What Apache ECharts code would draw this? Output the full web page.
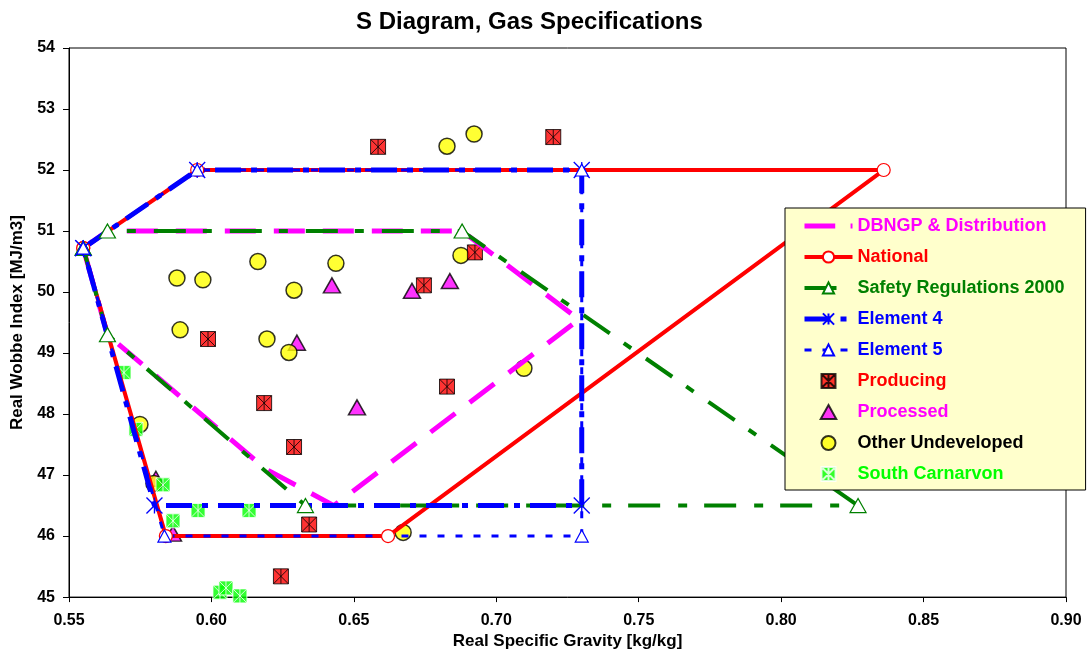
<!DOCTYPE html>
<html>
<head>
<meta charset="utf-8">
<script src="https://cdn.jsdelivr.net/npm/echarts@6/dist/echarts.min.js"></script>
<style>
  html, body { margin: 0; padding: 0; background: #ffffff; }
  #chart { width: 1089px; height: 655px; }
</style>
</head>
<body>
<div id="chart"></div>
<script>
// Specification envelopes: [specific gravity, Wobbe index]
const dbngpEnvelope = [[0.555, 50.72], [0.5635, 51.0], [0.688, 51.0], [0.729, 49.55], [0.643, 46.5], [0.619, 47.1], [0.5635, 49.3], [0.555, 50.72]];
const nationalEnvelope = [[0.555, 50.72], [0.595, 52.0], [0.836, 52.0], [0.662, 46.0], [0.584, 46.0], [0.555, 50.72]];
const safetyEnvelope = [[0.555, 50.72], [0.5635, 51.0], [0.688, 51.0], [0.827, 46.5], [0.633, 46.5], [0.5635, 49.3], [0.555, 50.72]];
const element4Envelope = [[0.555, 50.72], [0.595, 52.0], [0.730, 52.0], [0.730, 46.5], [0.580, 46.5], [0.555, 50.72]];
const element5Envelope = [[0.555, 50.72], [0.595, 52.0], [0.730, 52.0], [0.730, 46.0], [0.5835, 46.0], [0.555, 50.72]];

// Gas compositions
const producing = [[0.6585, 52.38], [0.720, 52.54], [0.6925, 50.65], [0.6746, 50.11], [0.5988, 49.23], [0.6827, 48.45], [0.6185, 48.18], [0.629, 47.46], [0.6343, 46.19], [0.6244, 45.34]];
const processed = [[0.6423, 50.11], [0.6704, 50.02], [0.6837, 50.18], [0.630, 49.17], [0.6511, 48.11], [0.5865, 46.04], [0.5805, 46.94]];
const otherUndeveloped = [[0.6922, 52.59], [0.6827, 52.39], [0.6163, 50.50], [0.6437, 50.47], [0.5879, 50.23], [0.597, 50.20], [0.629, 50.03], [0.6876, 50.60], [0.589, 49.38], [0.6195, 49.23], [0.6272, 49.01], [0.7097, 48.75], [0.6673, 46.06], [0.5749, 47.83], [0.5798, 46.86]];
const southCarnarvon = [[0.5693, 48.68], [0.5735, 47.75], [0.583, 46.84], [0.5865, 46.25], [0.5953, 46.42], [0.6132, 46.42], [0.603, 45.08], [0.6051, 45.15], [0.610, 45.02]];

const xRange = { min: 0.55, max: 0.90, step: 0.05 };
const yRange = { min: 45, max: 54, step: 1 };

const FONT = 'Liberation Sans, Arial, Helvetica, sans-serif';
const ASTERISK = 'path://M10,0L10,20M0,0L20,20M0,20L20,0';
const BOXED_ASTERISK = 'path://M0,0L20,0L20,20L0,20ZM10,0L10,20M0,0L20,20M0,20L20,0';
const TRIANGLE_ICON = 'path://M10,0L20,18L0,18Z';
const BAR_ICON = 'path://M0,0L32,0L32,5L0,5ZM48,0L50,0L50,5L48,5Z';

const chart = echarts.init(document.getElementById('chart'), null, { renderer: 'canvas' });

const legendItems = [
  { name: 'DBNGP & Distribution', textStyle: { color: '#ff00ff' }, icon: BAR_ICON },
  { name: 'National', textStyle: { color: '#ff0000' }, lineStyle: { width: 4 } },
  { name: 'Safety Regulations 2000', textStyle: { color: '#008000' }, lineStyle: { width: 4 } },
  { name: 'Element 4', textStyle: { color: '#0000ff' }, lineStyle: { width: 5 } },
  { name: 'Element 5', textStyle: { color: '#0000ff' }, lineStyle: { width: 3 } },
  { name: 'Producing', textStyle: { color: '#ff0000' } },
  { name: 'Processed', textStyle: { color: '#ff00ff' }, icon: TRIANGLE_ICON },
  { name: 'Other Undeveloped', textStyle: { color: '#000000' } },
  { name: 'South Carnarvon', textStyle: { color: '#00ff00' } }
];

function envelope(name, data, line, symbol) {
  return Object.assign({
    name: name,
    type: 'line',
    data: data,
    showAllSymbol: true,
    smooth: false,
    lineStyle: line,
    emphasis: { disabled: true },
    animation: false
  }, symbol);
}

function markers(name, data, symbol, size, style) {
  return {
    name: name,
    type: 'scatter',
    data: data,
    symbol: symbol,
    symbolSize: size,
    itemStyle: style,
    emphasis: { disabled: true },
    animation: false
  };
}

chart.setOption({
  backgroundColor: '#ffffff',
  animation: false,
  textStyle: { fontFamily: FONT },
  title: {
    text: 'S Diagram, Gas Specifications',
    left: 351,
    top: 5,
    textStyle: { fontFamily: FONT, fontSize: 24, fontWeight: 'bold', color: '#000' }
  },
  grid: {
    left: 69, right: 23, top: 48, bottom: 54,
    show: true, borderColor: '#000', borderWidth: 1, backgroundColor: '#fff'
  },
  legend: {
    orient: 'vertical',
    left: 785,
    top: 208,
    padding: [9, 21, 7, 17],
    itemWidth: 48,
    itemHeight: 14,
    itemGap: 13,
    backgroundColor: '#ffffcc',
    borderColor: '#000',
    borderWidth: 1,
    selectedMode: false,
    textStyle: { fontFamily: FONT, fontSize: 18, fontWeight: 'bold', lineHeight: 18 },
    data: legendItems
  },
  xAxis: {
    type: 'value',
    min: xRange.min, max: xRange.max, interval: xRange.step,
    name: 'Real Specific Gravity [kg/kg]',
    nameLocation: 'middle',
    nameGap: 33,
    nameTextStyle: { fontFamily: FONT, fontSize: 17, fontWeight: 'bold', color: '#000' },
    axisLine: { show: true, onZero: false, lineStyle: { color: '#000', width: 1 } },
    axisTick: { show: true, length: 5, inside: false, lineStyle: { color: '#000' } },
    axisLabel: {
      margin: 15, color: '#000', fontSize: 16, fontWeight: 'bold', fontFamily: FONT,
      formatter: v => v.toFixed(2)
    },
    splitLine: { show: false }
  },
  yAxis: {
    type: 'value',
    min: yRange.min, max: yRange.max, interval: yRange.step,
    name: 'Real Wobbe Index [MJ/m3]',
    nameLocation: 'middle',
    nameGap: 38,
    nameRotate: 90,
    nameTextStyle: { fontFamily: FONT, fontSize: 17, fontWeight: 'bold', color: '#000' },
    axisLine: { show: true, onZero: false, lineStyle: { color: '#000', width: 1 } },
    axisTick: { show: true, length: 6, inside: false, lineStyle: { color: '#000' } },
    axisLabel: { margin: 14, color: '#000', fontSize: 16, fontWeight: 'bold', fontFamily: FONT },
    splitLine: { show: false }
  },
  series: [
    envelope('DBNGP & Distribution', dbngpEnvelope,
      { color: '#ff00ff', width: 5, type: [31, 18], cap: 'butt' },
      { symbol: 'none', itemStyle: { color: '#ff00ff' } }),
    envelope('National', nationalEnvelope,
      { color: '#ff0000', width: 4 },
      { symbol: 'circle', symbolSize: 13, itemStyle: { color: '#ffffff', borderColor: '#ff0000', borderWidth: 1.2 } }),
    envelope('Safety Regulations 2000', safetyEnvelope,
      { color: '#008000', width: 4, type: [32, 17, 9, 18], cap: 'butt' },
      { symbol: 'triangle', symbolSize: [16, 14], itemStyle: { color: '#ffffff', borderColor: '#008000', borderWidth: 1.2 } }),
    envelope('Element 4', element4Envelope,
      { color: '#0000ff', width: 5, type: [26, 10, 6, 10], cap: 'butt' },
      { symbol: ASTERISK, symbolSize: 16, itemStyle: { color: 'rgba(0,0,0,0)', borderColor: '#0000ff', borderWidth: 1.3 } }),
    envelope('Element 5', element5Envelope,
      { color: '#0000ff', width: 3, type: [7, 11], cap: 'butt' },
      { symbol: 'triangle', symbolSize: [13, 12], itemStyle: { color: '#ffffff', borderColor: '#0000ff', borderWidth: 1.2 } }),
    markers('Processed', processed, 'triangle', [17, 15],
      { color: '#ff00ff', borderColor: '#000', borderWidth: 1.5 }),
    markers('Other Undeveloped', otherUndeveloped, 'circle', 16,
      { color: '#ffff00', borderColor: '#000', borderWidth: 1.5 }),
    markers('Producing', producing, BOXED_ASTERISK, 15,
      { color: '#ff0000', borderColor: '#000', borderWidth: 1 }),
    markers('South Carnarvon', southCarnarvon, BOXED_ASTERISK, 14,
      { color: '#00ff00', borderColor: '#ffffff', borderWidth: 1 })
  ]
});
</script>
</body>
</html>
